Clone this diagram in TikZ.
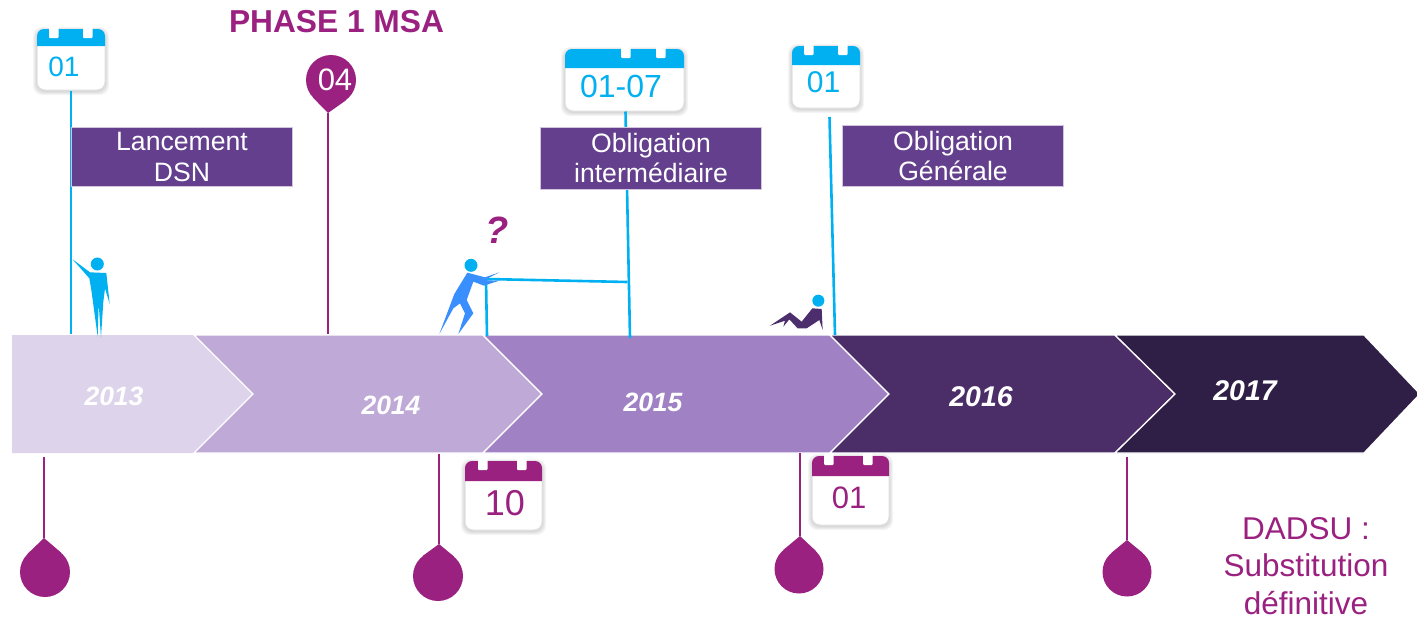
\documentclass[tikz,border=0pt]{standalone}
\usepackage{fontspec}
\setmainfont{Liberation Sans}
\usetikzlibrary{calc,fit}
\definecolor{skyc}{HTML}{00B0F0}
\definecolor{plum}{HTML}{9B2180}
\definecolor{boxv}{HTML}{633F8D}
\definecolor{bluem}{HTML}{3A8FFF}
\definecolor{figd}{HTML}{4B2E6B}
\definecolor{chA}{HTML}{DDD3EA}
\definecolor{chB}{HTML}{BFA9D7}
\definecolor{chC}{HTML}{A081C4}
\definecolor{chD}{HTML}{4B2E68}
\definecolor{chE}{HTML}{2F1E45}
\tikzset{
  x=1pt,y=-1pt,
  skyline/.style={draw=skyc,line width=2.6pt},
  plumline/.style={draw=plum,line width=2.6pt},
  chev/.style={draw=white,line width=1.3pt,line join=miter},
  yearlabel/.style={text=white,font=\fontsize{#1}{#1}\selectfont\bfseries\itshape,inner sep=0pt},
  vbox/.style={fill=boxv,draw=white!70!boxv,line width=.6pt,text=white,minimum width=221pt,align=center,inner sep=0pt,font=\fontsize{26.6}{30.5}\selectfont},
  calbody/.style={fill=white,draw=black!12,line width=1pt,rounded corners=8pt,inner sep=0pt},
  caltext/.style={inner sep=0pt},
  head/.style={circle,fill=skyc,inner sep=0pt}
}
% name, colour, x1, y1, x2, y2, header bottom, tab1 left, tab2 left
\newcommand{\calbox}[9]{%
  \foreach \d in {4,3,2,1}{\fill[black,opacity=.04,rounded corners=9pt] (#3-\d,#4-\d+2) rectangle (#5+\d,#6+\d+1);}
  \node[calbody,fit={(#3,#4)(#5,#6)}] (#1) {};
  \fill[#2,rounded corners=7pt] (#3,#7) -- (#3,#4) -- (#5,#4) -- (#5,#7);
  \fill[white,rounded corners=1pt] (#8,#4-3) rectangle (#8+9.5,#4+9);
  \fill[white,rounded corners=1pt] (#9,#4-3) rectangle (#9+9.5,#4+9);
}
% name, cx, cy, r, tipx, tipy
\newcommand{\pinmark}[6]{%
  \node[circle,fill=plum,inner sep=0pt,minimum size=#4*2pt] (#1) at (#2,#3) {};
  \coordinate (#1tip) at (#5,#6);
  \fill[plum] (#1tip) -- (tangent cs:node=#1,point={(#1tip)},solution=1) -- (#1.center) -- (tangent cs:node=#1,point={(#1tip)},solution=2) -- cycle;
}
\begin{document}
\begin{tikzpicture}
\useasboundingbox (0,0) rectangle (1417,619);
% chevrons
\fill[chA] (12,335) -- (194,335) -- (253,394) -- (194,453) -- (12,453) -- cycle;
\path[chev,fill=chB] (194,335) -- (483,335) -- (542,394) -- (483,453) -- (194,453) -- (253,394) -- cycle;
\path[chev,fill=chC] (483,335) -- (830,335) -- (889,394) -- (830,453) -- (483,453) -- (542,394) -- cycle;
\path[chev,fill=chD] (830,335) -- (1115,335) -- (1175,394) -- (1115,453) -- (830,453) -- (889,394) -- cycle;
\path[chev,fill=chE] (1115,335) -- (1364,335) -- (1420,394) -- (1364,453) -- (1115,453) -- (1175,394) -- cycle;
\node[yearlabel=26.5] (y13) at (114,396) {2013};
\node[yearlabel=26.5] (y14) at (391,405) {2014};
\node[yearlabel=26.5] (y15) at (653,402) {2015};
\node[yearlabel=28.5] (y16) at (981,397) {2016};
\node[yearlabel=28.5] (y17) at (1245,391) {2017};
% end points on the band
\coordinate (eA) at (71,334);
\coordinate (eB) at (630,338);
\coordinate (eC) at (835,335);
\coordinate (eD) at (487,336);
\coordinate (jA) at (486,279);
\coordinate (jB) at (627.5,282);
\coordinate (eP) at (328,334);
\coordinate (fC) at (829.5,117);
\coordinate (s1) at (44,457);
\coordinate (s2) at (439,454);
\coordinate (s3) at (800,453);
\coordinate (s4) at (1127,457);
% calendars
\calbox{calA}{skyc}{37}{29}{105}{90}{46}{49}{83}
\calbox{calB}{skyc}{565}{49}{684}{111}{68}{621}{656}
\calbox{calC}{skyc}{792}{46}{860}{108}{65}{804}{838}
\calbox{calD}{plum}{465}{461}{542}{530}{481}{478}{517}
\calbox{calE}{plum}{812}{456}{889}{525}{476}{824}{863}
\node[caltext,text=skyc,font=\fontsize{28}{28}\selectfont] (tA) at (64,67) {01};
\node[caltext,text=skyc,font=\fontsize{32}{32}\selectfont] (tB) at (621,86) {01-07};
\node[caltext,text=skyc,font=\fontsize{30}{30}\selectfont] (tC) at (823.5,82) {01};
\node[caltext,text=plum,font=\fontsize{36}{36}\selectfont] (tD) at (505,503) {10};
\node[caltext,text=plum,font=\fontsize{31}{31}\selectfont] (tE) at (849,498) {01};
% connectors
\draw[skyline] (calA.south) -- (eA);
\draw[skyline] (calB.south) ++(1,0) -- (eB);
\draw[skyline] (fC) -- (eC);
\draw[skyline] (eD) -- (jA) -- (jB);
% pins
\pinmark{pT}{331}{80}{25}{328}{113}
\draw[plumline] (pTtip) -- (eP);
\node[text=white,inner sep=0pt,font=\fontsize{31}{31}\selectfont] (tP) at (335,80) {04};
\pinmark{p1}{45}{572}{25}{44}{538}
\pinmark{p2}{438}{576}{25}{439}{544}
\pinmark{p3}{799}{569}{24.5}{800}{536}
\pinmark{p4}{1127}{572}{24.5}{1127}{540}
\draw[plumline] (s1) -- (p1tip);
\draw[plumline] (s2) -- (p2tip);
\draw[plumline] (s3) -- (p3tip);
\draw[plumline] (s4) -- (p4tip);
% label boxes
\node[vbox,minimum height=59pt] (bA) at (182,157) {Lancement\\DSN};
\node[vbox,minimum height=62pt] (bB) at (651,158) {Obligation\\intermédiaire};
\node[vbox,minimum height=61pt] (bC) at (953,156) {Obligation\\Générale};
% titles
\node[inner sep=0pt,text=plum,font=\fontsize{31.7}{32}\selectfont\bfseries] (title) at (336.5,22) {PHASE 1 MSA};
\node[inner sep=0pt,text=plum,font=\fontsize{38}{38}\selectfont\bfseries\itshape] (qm) at (497,230) {?};
\node[inner sep=0pt,align=center,text=plum,font=\fontsize{31.5}{37.5}\selectfont] (dad) at (1306,566) {DADSU :\\Substitution\\définitive};
% figures
\begin{scope}[scale=1/3]
  \fill[skyc] (218,778) -- (270,817) -- (319,819) -- (329,912) -- (315,865) -- (310,905) -- (303,1012) -- (296,910) -- (293,1010) -- (274,870) -- (268,835) -- cycle;
  \node[head,minimum size=13pt] (hA) at (292,792) {};
\end{scope}
\begin{scope}[shift={(420,200)},scale=1/3]
  \fill[bluem] (142,218) -- (195,232) -- (238,217) -- (205,234) -- (197,241) -- (238,242) -- (192,257) -- (160,245) -- (140,300) -- (160,340) -- (115,402) -- (135,340) -- (120,310) -- (100,325) -- (58,402) -- (103,282) -- cycle;
  \node[head,minimum size=13pt] (hB) at (153,196) {};
\end{scope}
\begin{scope}[shift={(750,280)},scale=1/3]
  \fill[figd] (60,137) -- (120,97) -- (155,125) -- (187,85) -- (215,87) -- (218,150) -- (208,120) -- (170,145) -- (143,145) -- (118,118) -- (100,140) -- (105,122) -- cycle;
  \node[head,minimum size=12pt] (hC) at (205,62) {};
\end{scope}
\end{tikzpicture}
\end{document}
